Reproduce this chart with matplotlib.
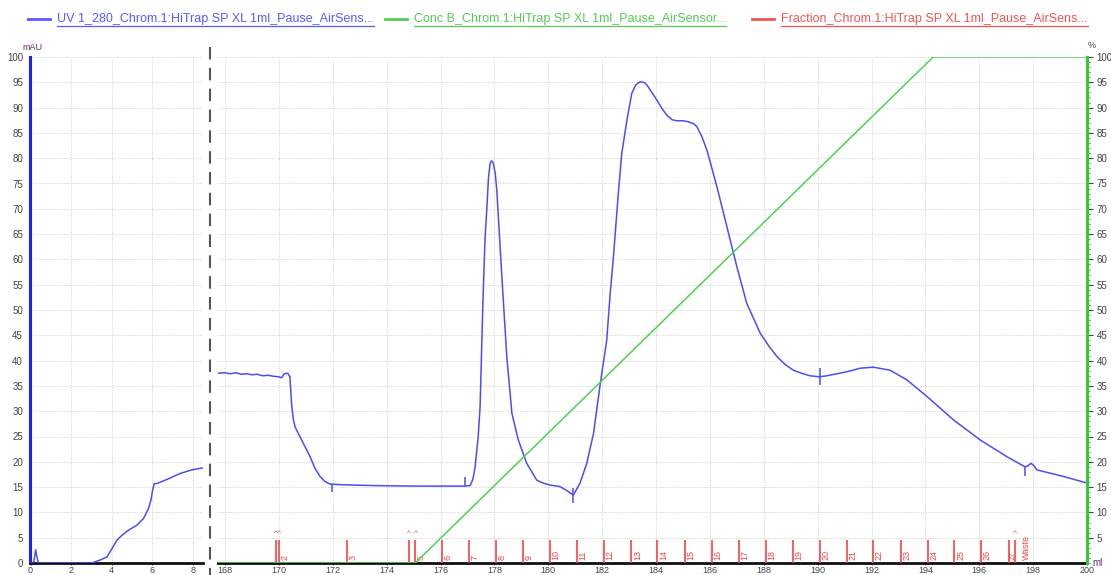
import numpy as np
import matplotlib
matplotlib.use("Agg")
import matplotlib.pyplot as plt
from matplotlib.lines import Line2D
from matplotlib.ticker import MultipleLocator

plt.rcParams['font.family'] = ['Liberation Sans', 'DejaVu Sans']

# ---- UV 280 trace, first segment (ml, mAU) ----
left_ml = [0.0, 0.08, 0.16, 0.25, 0.30, 0.38, 3.0, 3.44, 3.77, 4.02, 4.26, 4.51,
           4.84, 5.25, 5.57, 5.82, 5.94, 6.02, 6.10, 6.23, 6.72, 7.38, 7.95, 8.49]
left_uv = [0.0, 0.0, 0.3, 2.6, 1.4, 0.0, 0.0, 0.6, 1.2, 2.9, 4.5, 5.5,
           6.5, 7.5, 8.8, 10.8, 12.5, 14.4, 15.7, 15.7, 16.5, 17.7, 18.4, 18.8]

# ---- UV 280 trace, elution segment (ml, mAU) ----
uv_ml = [167.74, 168.0, 168.2, 168.4, 168.6, 168.8, 169.0, 169.2, 169.4, 169.6,
         169.8, 170.0, 170.1, 170.2, 170.33, 170.41, 170.44, 170.48, 170.54,
         170.60, 170.78, 170.97, 171.16, 171.34, 171.53, 171.71, 171.90, 172.2,
         172.75, 173.5, 175.0, 176.9, 177.10, 177.2, 177.28, 177.4, 177.47,
         177.57, 177.65, 177.72, 177.78, 177.84, 177.90, 177.96, 178.03, 178.09,
         178.27, 178.46, 178.65, 178.89, 179.20, 179.57, 179.8, 180.07, 180.44,
         180.75, 180.93, 181.18, 181.43, 181.68, 181.92, 182.17, 182.30, 182.42,
         182.6, 182.73, 182.92, 183.10, 183.25, 183.41, 183.55, 183.66, 184.03,
         184.2, 184.40, 184.6, 184.77, 185.0, 185.20, 185.4, 185.52, 185.7,
         185.89, 186.26, 186.63, 187.00, 187.37, 187.87, 188.2, 188.49, 188.8,
         189.10, 189.4, 189.72, 190.07, 190.34, 191.09, 191.58, 192.07, 192.69,
         193.31, 194.06, 195.04, 196.04, 197.03, 197.60, 197.71, 197.80, 197.92,
         198.02, 198.14, 199.13, 200.0]
uv_mau = [37.5, 37.6, 37.4, 37.6, 37.3, 37.4, 37.2, 37.3, 37.0, 37.1,
          36.9, 36.8, 36.6, 37.4, 37.5, 36.8, 34.2, 30.9, 28.3,
          26.9, 25.0, 23.0, 21.0, 18.7, 17.1, 16.1, 15.6, 15.5,
          15.4, 15.3, 15.2, 15.2, 15.3, 16.5, 18.8, 25.0, 30.9,
          50.7, 63.8, 70.0, 76.0, 79.0, 79.5, 79.0, 77.0, 73.7,
          57.3, 40.8, 29.6, 24.3, 19.7, 16.4, 15.8, 15.4, 15.1,
          14.1, 13.4, 15.8, 19.7, 25.6, 35.0, 44.0, 53.3, 60.5,
          73.0, 81.0, 87.5, 92.8, 94.5, 95.1, 95.0, 94.5, 91.5,
          90.0, 88.5, 87.6, 87.4, 87.4, 87.2, 86.8, 86.2, 84.3,
          81.6, 74.4, 66.5, 58.6, 51.3, 45.4, 42.8, 40.8, 39.2,
          38.1, 37.5, 37.0, 36.8, 37.0, 37.8, 38.5, 38.7, 38.1,
          36.2, 32.9, 28.3, 24.3, 21.0, 19.3, 19.0, 19.2, 19.7,
          19.3, 18.4, 17.1, 15.8]

# event markers on the UV trace: position, low, high
mark_ml = [171.96, 176.91, 180.93, 190.07, 197.71]
mark_lo = [14.1, 15.2, 11.8, 35.2, 17.2]
mark_hi = [15.6, 16.9, 14.8, 38.5, 19.0]

# ---- Conc B gradient (ml, %) ----
concb_ml = [167.74, 175.06, 194.29, 200.0]
concb_pct = [0.0, 0.0, 100.0, 100.0]

# ---- Fractions ----
frac_ml = [169.89, 170.0, 172.52, 174.82, 175.07, 176.06, 177.07, 178.06, 179.08,
           180.07, 181.06, 182.07, 183.08, 184.05, 185.08, 186.07, 187.07, 188.08,
           189.08, 190.07, 191.09, 192.07, 193.09, 194.08, 195.08, 196.07, 197.09,
           197.33]
frac_lab = ['', '2', '3', '', '5', '6', '7', '8', '9', '10', '11', '12', '13', '14',
            '15', '16', '17', '18', '19', '20', '21', '22', '23', '24', '25', '26',
            '27', 'Waste']
caret_ml = [169.89, 170.0, 174.82, 175.07, 197.33]

left_xticks = [0, 2, 4, 6, 8]
main_xticks = list(range(168, 201, 2))
y_ticks = list(range(0, 101, 5))
right_ticks = list(range(5, 101, 5))

legend_entries = [
    ("UV 1_280_Chrom.1:HiTrap SP XL 1ml_Pause_AirSens...", '#5a5aff'),
    ("Conc B_Chrom.1:HiTrap SP XL 1ml_Pause_AirSensor...", '#55cc55'),
    ("Fraction_Chrom.1:HiTrap SP XL 1ml_Pause_AirSens...", '#ee5555'),
]

BLUE = '#4d4df2'
GREEN = '#4fd04f'
RED = '#f04545'
TICKC = '#444444'
LABC = '#6a2e6a'

W, H = 1111, 575
fig = plt.figure(figsize=(W / 100, H / 100), dpi=100)


def fx(px):
    return px / W


def fy(py):
    return 1 - py / H


grid_kw = dict(color='#cfcfcf', linestyle=(0, (1, 1.5)), linewidth=0.7)

# ---- left panel ----
ax_l = fig.add_axes([fx(30), fy(563), fx(203.3) - fx(30), fy(57) - fy(563)])
ax_l.set_xlim(-0.03, 8.52)
ax_l.set_ylim(0, 100)
ax_l.set_xticks(left_xticks)
ax_l.set_yticks(y_ticks)
ax_l.grid(True, **grid_kw)
ax_l.set_axisbelow(True)
for s in ('top', 'right'):
    ax_l.spines[s].set_visible(False)
ax_l.spines['left'].set_color('#2020ff')
ax_l.spines['left'].set_linewidth(2.2)
ax_l.spines['bottom'].set_color('#111111')
ax_l.spines['bottom'].set_linewidth(2)
ax_l.tick_params(axis='x', labelsize=6.5, colors=TICKC, length=1.5, pad=0.5)
ax_l.tick_params(axis='y', labelsize=7, colors=TICKC, length=0, pad=5)
ax_l.plot(left_ml, left_uv, color=BLUE, lw=1.1, zorder=3)

# ---- main panel ----
ax_m = fig.add_axes([fx(218), fy(563), fx(1087) - fx(218), fy(57) - fy(563)])
ax_m.set_xlim(167.74, 200)
ax_m.set_ylim(0, 100)
ax_m.set_xticks(main_xticks)
ax_m.set_yticks(y_ticks)
ax_m.set_yticklabels([])
ax_m.grid(True, **grid_kw)
ax_m.set_axisbelow(True)
for s in ('top', 'left', 'right'):
    ax_m.spines[s].set_visible(False)
ax_m.spines['bottom'].set_color('#111111')
ax_m.spines['bottom'].set_linewidth(2)
ax_m.tick_params(axis='x', labelsize=6.5, colors=TICKC, length=1.5, pad=0.5)
ax_m.tick_params(axis='y', length=0)

ax_m.plot(uv_ml, uv_mau, color=BLUE, lw=1.1, zorder=4)
ax_m.vlines(mark_ml, mark_lo, mark_hi, color=BLUE, lw=1.1, zorder=4)

# fractions
ax_m.vlines(frac_ml, 0, 4.5, color=RED, lw=1.2, zorder=3)
for x, lab in zip(frac_ml, frac_lab):
    if not lab:
        continue
    if lab == '27':
        ax_m.text(x + 0.02, 0.5, lab, rotation=90, fontsize=5.5, color=RED,
                  ha='left', va='bottom', zorder=3)
    elif lab == 'Waste':
        ax_m.text(x + 0.26, 0.5, lab, rotation=90, fontsize=6.5, color=RED,
                  ha='left', va='bottom', zorder=3)
    else:
        ax_m.text(x + 0.06, 0.5, lab, rotation=90, fontsize=6.5, color=RED,
                  ha='left', va='bottom', zorder=3)
for x in caret_ml:
    ax_m.text(x, 5.2, '^', fontsize=6, color=RED, ha='center', va='bottom')

# ---- right axis: Conc B ----
ax_r = ax_m.twinx()
ax_r.set_ylim(0, 100)
ax_r.set_yticks(right_ticks)
ax_r.yaxis.set_minor_locator(MultipleLocator(1))
for s in ('top', 'left', 'bottom'):
    ax_r.spines[s].set_visible(False)
ax_r.spines['right'].set_color('#33cc33')
ax_r.spines['right'].set_linewidth(2.2)
ax_r.tick_params(axis='y', which='major', labelsize=7, colors=TICKC, length=4,
                 width=0.8, pad=3)
ax_r.tick_params(axis='y', which='minor', length=2, width=0.6, colors='#777777')
ax_r.plot(concb_ml, concb_pct, color=GREEN, lw=1.1, zorder=2)

# unit labels
fig.text(fx(22), fy(47), 'mAU', fontsize=6.5, color=LABC, ha='left', va='center')
fig.text(fx(1088), fy(46), '%', fontsize=6.5, color=TICKC, ha='left', va='center')
fig.text(fx(1092), fy(563), 'ml', fontsize=7, color=LABC, ha='left', va='center')

# separator between the two segments
fig.add_artist(Line2D([fx(210), fx(210)], [fy(47), 0], color='#555555', lw=1.5,
                      linestyle=(0, (6, 4))))

# ---- legend header with underlined entries ----
leg_x = [28, 385, 752]
leg_y = 19
texts = []
for (label, col), x0 in zip(legend_entries, leg_x):
    fig.add_artist(Line2D([fx(x0), fx(x0 + 22)], [fy(leg_y), fy(leg_y)], color=col, lw=2))
    t = fig.text(fx(x0 + 29), fy(leg_y), label, fontsize=9, color=col,
                 ha='left', va='center')
    texts.append((t, col))

fig.canvas.draw()
renderer = fig.canvas.get_renderer()
for t, col in texts:
    bb = t.get_window_extent(renderer)
    yline = bb.y0 - 1
    fig.add_artist(Line2D([bb.x0 / W, bb.x1 / W], [yline / H, yline / H],
                          color=col, lw=0.9))

fig.savefig('out.png', dpi=100)
